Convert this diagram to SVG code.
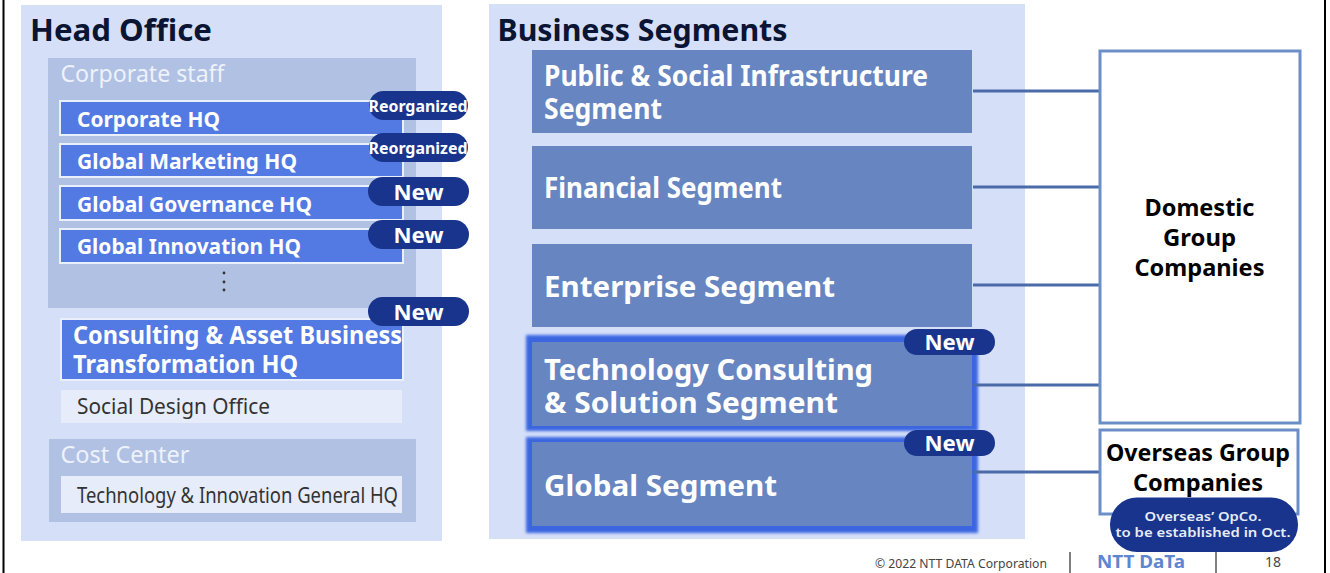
<svg xmlns="http://www.w3.org/2000/svg" width="1330" height="573" viewBox="0 0 1330 573">
<defs>
<filter id="glow" x="-5%" y="-15%" width="110%" height="130%"><feGaussianBlur stdDeviation="1.4"/></filter>
<style>
text{font-family:"Noto Sans","Open Sans","Liberation Sans",sans-serif}
.title{font-size:30px;font-weight:700;fill:#0a1433}
.pale{fill:#d6dff8}
.mid{fill:#b0c1e4}
.sub{font-size:24px;fill:#eef2fb}
.hq{fill:#5379e2;stroke:#eaf0fb;stroke-width:2}
.hqt{font-size:21px;font-weight:700;fill:#fff}
.cap{font-size:25px;font-weight:700;fill:#fff}
.light{fill:#e6ecfa}
.dark{font-size:21px;fill:#333}
.pill{fill:#18348c}
.new{font-size:22px;font-weight:700;fill:#fff;text-anchor:middle}
.re{font-size:15.5px;font-weight:700;fill:#fff;text-anchor:middle}
.seg{fill:#6785c1}
.segt{font-size:29px;font-weight:700;fill:#fff}
.ring{fill:#3a66e0;filter:url(#glow)}
.co{fill:#fff;stroke:#6d8fc8;stroke-width:3}
.cot{font-size:24px;font-weight:700;fill:#000;text-anchor:middle}
.conn line{stroke:#4a6ba8;stroke-width:3}
.foot line{stroke:#555;stroke-width:1.5}
</style>
</defs>
<rect width="1330" height="573" fill="#fff"/>
<line x1="3.5" y1="0" x2="3.5" y2="573" stroke="#000" stroke-width="2"/>
<line x1="1325" y1="0" x2="1325" y2="573" stroke="#000" stroke-width="2"/>

<g id="head-office">
<rect class="pale" x="21" y="5" width="421" height="536"/>
<text class="title" x="30" y="41" textLength="182" lengthAdjust="spacingAndGlyphs">Head Office</text>
</g>
<g id="corporate-staff">
<rect class="mid" x="48" y="58" width="368" height="250"/>
<text class="sub" x="60.500" y="82" textLength="164" lengthAdjust="spacingAndGlyphs">Corporate staff</text>
</g>
<g id="corporate-hq">
<rect class="hq" x="60" y="101" width="343" height="34"/>
<text class="hqt" x="77" y="127" textLength="143" lengthAdjust="spacingAndGlyphs">Corporate HQ</text>
</g>
<g id="global-marketing-hq">
<rect class="hq" x="60" y="144" width="343" height="33"/>
<text class="hqt" x="77" y="169" textLength="220" lengthAdjust="spacingAndGlyphs">Global Marketing HQ</text>
</g>
<g id="global-governance-hq">
<rect class="hq" x="60" y="186" width="343" height="34"/>
<text class="hqt" x="77" y="212" textLength="235" lengthAdjust="spacingAndGlyphs">Global Governance HQ</text>
</g>
<g id="global-innovation-hq">
<rect class="hq" x="60" y="229" width="343" height="34"/>
<text class="hqt" x="77" y="254" textLength="224" lengthAdjust="spacingAndGlyphs">Global Innovation HQ</text>
</g>
<g id="more-dots" fill="#333">
<circle cx="224" cy="273" r="1.4"/><circle cx="224" cy="282" r="1.4"/><circle cx="224" cy="290" r="1.4"/>
</g>
<g id="consulting-hq">
<rect class="hq" x="61" y="319" width="342" height="61"/>
<text class="cap" x="73" y="344" textLength="329" lengthAdjust="spacingAndGlyphs">Consulting &amp; Asset Business</text>
<text class="cap" x="73" y="373" textLength="225" lengthAdjust="spacingAndGlyphs">Transformation HQ</text>
</g>
<g id="social-design-office">
<rect class="light" x="61" y="390" width="341" height="33"/>
<text class="dark" x="77" y="414" textLength="193" lengthAdjust="spacingAndGlyphs">Social Design Office</text>
</g>
<g id="cost-center">
<rect class="mid" x="49" y="439" width="367" height="83"/>
<text class="sub" x="60.500" y="463" textLength="129" lengthAdjust="spacingAndGlyphs">Cost Center</text>
</g>
<g id="technology-innovation-general-hq">
<rect class="light" x="61" y="476" width="341" height="37"/>
<text class="dark" x="77" y="503" textLength="321" lengthAdjust="spacingAndGlyphs">Technology &amp; Innovation General HQ</text>
</g>
<g id="badge-corporate"><rect class="pill" x="369" y="91" width="99" height="29" rx="14.5"/><text class="re" x="418" y="111.500" textLength="99" lengthAdjust="spacingAndGlyphs">Reorganized</text></g>
<g id="badge-marketing"><rect class="pill" x="369" y="133" width="99" height="29" rx="14.5"/><text class="re" x="418" y="153.500" textLength="99" lengthAdjust="spacingAndGlyphs">Reorganized</text></g>
<g id="badge-governance"><rect class="pill" x="368" y="177" width="101" height="29" rx="14.5"/><text class="new" x="418.500" y="200" textLength="50" lengthAdjust="spacingAndGlyphs">New</text></g>
<g id="badge-innovation"><rect class="pill" x="368" y="220" width="101" height="29" rx="14.5"/><text class="new" x="418.500" y="243" textLength="50" lengthAdjust="spacingAndGlyphs">New</text></g>
<g id="badge-consulting"><rect class="pill" x="368" y="297" width="101" height="29" rx="14.5"/><text class="new" x="418.500" y="320" textLength="50" lengthAdjust="spacingAndGlyphs">New</text></g>

<g id="business-segments">
<rect class="pale" x="489" y="4" width="536" height="535"/>
<text class="title" x="497.500" y="41" textLength="290" lengthAdjust="spacingAndGlyphs">Business Segments</text>
</g>
<g id="public-social">
<rect class="seg" x="532" y="50" width="440" height="83"/>
<text class="segt" x="544" y="85.500" textLength="384" lengthAdjust="spacingAndGlyphs">Public &amp; Social Infrastructure</text>
<text class="segt" x="544" y="118.500" textLength="118" lengthAdjust="spacingAndGlyphs">Segment</text>
</g>
<g id="financial">
<rect class="seg" x="532" y="146" width="440" height="83"/>
<text class="segt" x="544" y="198" textLength="238" lengthAdjust="spacingAndGlyphs">Financial Segment</text>
</g>
<g id="enterprise">
<rect class="seg" x="532" y="244" width="440" height="83"/>
<text class="segt" x="544" y="297" textLength="291" lengthAdjust="spacingAndGlyphs">Enterprise Segment</text>
</g>
<g id="technology-consulting">
<rect class="ring" x="526" y="335" width="452" height="96"/>
<rect class="seg" x="532" y="342" width="440" height="84"/>
<text class="segt" x="544" y="380" textLength="329" lengthAdjust="spacingAndGlyphs">Technology Consulting</text>
<text class="segt" x="544" y="413" textLength="294" lengthAdjust="spacingAndGlyphs">&amp; Solution Segment</text>
</g>
<g id="global">
<rect class="ring" x="526" y="437" width="452" height="96"/>
<rect class="seg" x="532" y="442" width="440" height="84"/>
<text class="segt" x="544" y="495.500" textLength="233" lengthAdjust="spacingAndGlyphs">Global Segment</text>
</g>
<g id="connectors" class="conn">
<line x1="973" y1="91" x2="1100" y2="91"/>
<line x1="973" y1="187" x2="1100" y2="187"/>
<line x1="973" y1="285" x2="1100" y2="285"/>
<line x1="973" y1="385" x2="1100" y2="385"/>
<line x1="973" y1="472" x2="1100" y2="472"/>
</g>
<g id="badge-techconsulting"><rect class="pill" x="904" y="329" width="91" height="26" rx="13"/><text class="new" x="949.500" y="350" textLength="50" lengthAdjust="spacingAndGlyphs">New</text></g>
<g id="badge-global"><rect class="pill" x="904" y="430" width="91" height="26" rx="13"/><text class="new" x="949.500" y="451" textLength="50" lengthAdjust="spacingAndGlyphs">New</text></g>

<g id="domestic-group">
<rect class="co" x="1100" y="51" width="200" height="372"/>
<text class="cot" x="1199.500" y="216" textLength="110" lengthAdjust="spacingAndGlyphs">Domestic</text>
<text class="cot" x="1199.500" y="246" textLength="73" lengthAdjust="spacingAndGlyphs">Group</text>
<text class="cot" x="1199.500" y="276" textLength="130" lengthAdjust="spacingAndGlyphs">Companies</text>
</g>
<g id="overseas-group">
<rect class="co" x="1100" y="430" width="198" height="84"/>
<text class="cot" x="1198" y="461" textLength="184" lengthAdjust="spacingAndGlyphs">Overseas Group</text>
<text class="cot" x="1198" y="491" textLength="130" lengthAdjust="spacingAndGlyphs">Companies</text>
</g>
<g id="badge-overseas">
<rect class="pill" x="1110" y="497.500" width="188" height="54.500" rx="27"/>
<text x="1203" y="521" font-size="13" font-weight="600" fill="#e8edf8" text-anchor="middle" textLength="117" lengthAdjust="spacingAndGlyphs">Overseas’ OpCo.</text>
<text x="1203" y="537" font-size="13" font-weight="600" fill="#e8edf8" text-anchor="middle" textLength="175" lengthAdjust="spacingAndGlyphs">to be established in Oct.</text>
</g>
<g id="footer" class="foot">
<text x="875" y="568" font-size="12" fill="#444" textLength="172" lengthAdjust="spacingAndGlyphs">© 2022 NTT DATA Corporation</text>
<line x1="1070" y1="552" x2="1070" y2="573"/>
<text x="1097" y="568" font-size="17" font-weight="700" fill="#5d86d0" textLength="88" lengthAdjust="spacingAndGlyphs">NTT DaTa</text>
<line x1="1216" y1="552" x2="1216" y2="573"/>
<text x="1273" y="567" font-size="14" fill="#444" text-anchor="middle">18</text>
</g>
</svg>
